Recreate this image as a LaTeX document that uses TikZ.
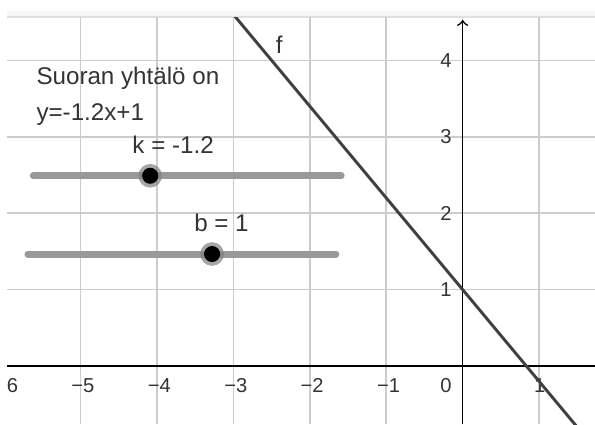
\documentclass[tikz,border=0pt]{standalone}
\usepackage{fontspec}
\setmainfont{Liberation Sans}
\usetikzlibrary{arrows}
\definecolor{gridgray}{rgb}{0.80,0.80,0.80}
\definecolor{slidergray}{rgb}{0.60,0.60,0.60}
\definecolor{linegray}{rgb}{0.25,0.25,0.25}
\definecolor{textgray}{rgb}{0.20,0.20,0.20}

\begin{document}
\begin{tikzpicture}

\tikzstyle{every node}=[font=\fontsize{9}{11}\selectfont, text=textgray]
\tikzstyle{ticklabel}=[font=\fontsize{7.5}{9}\selectfont, inner sep=0pt]
\tikzstyle{slider}=[slidergray, line width=2.6pt, line cap=round]
\tikzstyle{sliderpoint}=[circle, fill=black, inner sep=0pt, minimum size=0.21cm]
\tikzstyle{halo}=[circle, fill=black!50, fill opacity=0.7, inner sep=0pt, minimum size=0.31cm]

\useasboundingbox (-6.056,-0.759) rectangle (1.732,4.791);
% top strip
    \fill[black!3] (-5.965,4.568) rectangle (1.732,4.646);
    \draw[black!12] (-5.965,4.568) -- (1.732,4.568);
\begin{scope}
\clip (-5.965,-0.759) rectangle (1.732,4.568);
% grid
  \foreach \x in {-5,...,1}
    \draw[gridgray, line width=0.6pt] (\x,-0.759) -- (\x,4.568);
  \foreach \y in {1,...,4}
    \draw[gridgray, line width=0.6pt] (-5.965,\y) -- (1.732,\y);
% axes
    \draw[line width=0.6pt] (-5.965,0) -- (1.732,0);
    \draw[->, line width=0.6pt] (0,-0.759) -- (0,4.53);
% tick labels
  \foreach \x in {-6,...,-1}
    \node[ticklabel] (xl\x) at (\x+0.03,-0.26) {−\the\numexpr-\x\relax};
    \node[ticklabel] (xl0) at (-0.22,-0.26) {0};
    \node[ticklabel] (xl1) at (1.01,-0.26) {1};
  \foreach \y in {1,...,4}
    \node[ticklabel] (yl\y) at (-0.22,\y) {\y};
% line f
    \draw[linegray, line width=1.1pt] (-3.2,4.84) -- (1.8,-1.16);
\end{scope}
    \node (flabel) at (-2.40,4.20) {f};
% text
    \node[anchor=west, inner sep=0pt] (eq1) at (-5.585,3.77) {Suoran yhtälö on};
    \node[anchor=west, inner sep=0pt] (eq2) at (-5.585,3.285) {y=-1.2x+1};
% slider k
    \coordinate (kstart) at (-5.62,2.49);
    \coordinate (kend) at (-1.59,2.49);
    \draw[slider] (kstart) -- (kend);
    \node[halo] at (-4.09,2.49) {};
    \node[sliderpoint] (kpoint) at (-4.09,2.49) {};
    \node (klabel) at (-3.79,2.893) {k = -1.2};
% slider b
    \coordinate (bstart) at (-5.69,1.466);
    \coordinate (bend) at (-1.66,1.466);
    \draw[slider] (bstart) -- (bend);
    \node[halo] at (-3.28,1.466) {};
    \node[sliderpoint] (bpoint) at (-3.28,1.466) {};
    \node (blabel) at (-3.157,1.876) {b = 1};
\end{tikzpicture}
\end{document}
